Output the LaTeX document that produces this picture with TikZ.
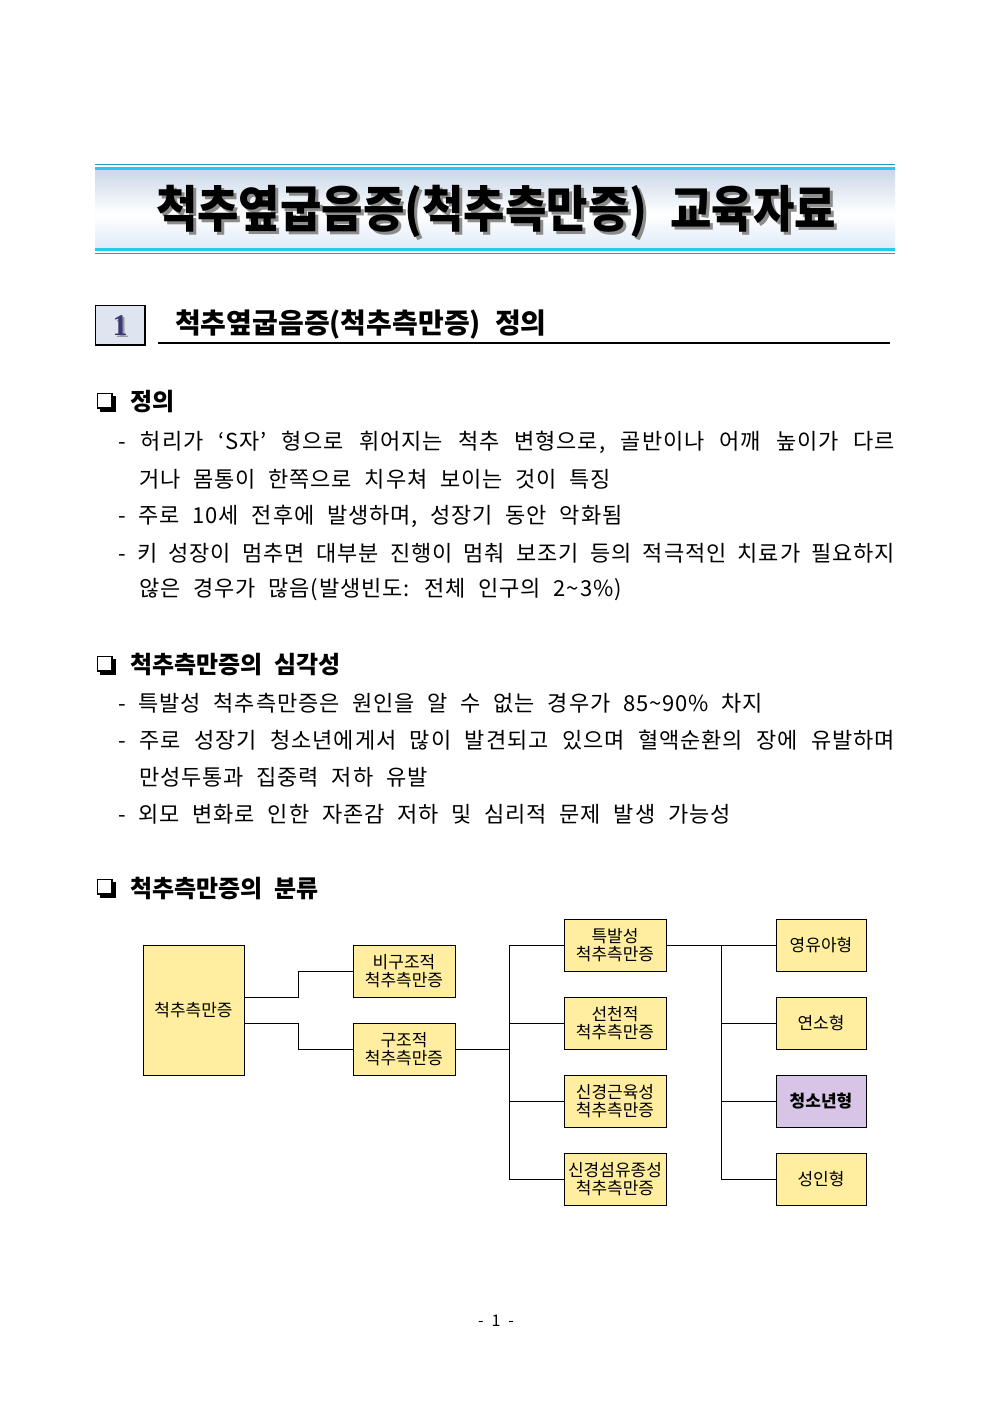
\documentclass[tikz,border=0pt]{standalone}
\usepackage{fontspec}
\usepackage{graphicx}
\setmainfont{Noto Sans CJK KR}[WordSpace=2.2]
\newfontfamily\bodyfont{Noto Sans CJK KR}[WordSpace=2.2, LetterSpace=4]
\newfontfamily\numfont{Liberation Serif}
\definecolor{boxyellow}{RGB}{255,238,160}
\definecolor{boxpurple}{RGB}{216,196,230}
\definecolor{cyanline}{RGB}{40,200,235}
\definecolor{titletop}{RGB}{200,214,232}
\definecolor{titlebot}{RGB}{222,234,248}
\definecolor{numblue}{RGB}{58,58,120}
\begin{document}
\begin{tikzpicture}[x=1pt,y=-1pt,
  box/.style={draw, line width=0.9pt, fill=boxyellow, inner sep=0pt, align=center,
    minimum width=102pt, minimum height=52pt, font=\fontsize{17}{18}\selectfont},
  rbox/.style={box, minimum width=90pt},
  conn/.style={line width=0.9pt},
  bodytxt/.style={anchor=west, inner sep=0pt, font=\bodyfont\fontsize{22}{24}\selectfont},
  headtxt/.style={anchor=west, inner sep=0pt, font=\fontsize{24}{28}\bfseries}]
\useasboundingbox (0,0) rectangle (992,1403);
\fill[white] (0,0) rectangle (992,1403);

% ---- title banner
\shade[top color=titletop, bottom color=white] (95,168) rectangle (895,214);
\shade[top color=white, bottom color=titlebot] (95,214) rectangle (895,250);
\draw[cyanline!80!black, line width=0.8pt] (95,164.5) -- (895,164.5);
\draw[cyanline, line width=3pt] (95,168) -- (895,168);
\draw[cyanline, line width=3pt] (95,249.5) -- (895,249.5);
\draw[cyanline!80!black, line width=0.8pt] (95,253) -- (895,253);
\node[text=black!45, font=\fontsize{50}{50}\bfseries] (titleshadow) at (499,214) {\scalebox{0.9}[1]{척추옆굽음증(척추측만증) 교육자료}};
\node[font=\fontsize{50}{50}\bfseries] (title) at (496,211) {\scalebox{0.9}[1]{척추옆굽음증(척추측만증) 교육자료}};

% ---- section 1 header
\draw[fill={rgb,255:red,222;green,228;blue,240}, line width=1.6pt] (95.5,305.5) rectangle (145,345);
\node[text=black!40, font=\numfont\fontsize{30}{30}\bfseries] (numshadow) at (122,328) {1};
\node[text=numblue, font=\numfont\fontsize{30}{30}\bfseries] (num) at (120,326) {1};
\node[anchor=west, inner sep=0pt, font=\fontsize{28}{30}\bfseries] (sec1) at (175,325) {척추옆굽음증(척추측만증) 정의};
\draw[line width=2pt] (158,343) -- (890,343);

% ---- heading markers
\foreach \yy in {402,665,888}{
  \draw[line width=1.3pt] (97.5,\yy-8.5) rectangle (112,\yy+6);
  \fill (112,\yy-6) rectangle (115.5,\yy+9.5);
  \fill (100,\yy+6) rectangle (115.5,\yy+9.5);
}

% ---- section: 정의
\node[headtxt] (h1) at (130,402) {정의};
\node[bodytxt] (l1) at (118,442) {\makebox[777pt][s]{- 허리가 ‘S자’ 형으로 휘어지는 척추 변형으로, 골반이나 어깨 높이가 다르}};
\node[bodytxt] (l2) at (139,479) {거나 몸통이 한쪽으로 치우쳐 보이는 것이 특징};
\node[bodytxt] (l3) at (118,516) {- 주로 10세 전후에 발생하며, 성장기 동안 악화됨};
\node[bodytxt] (l4) at (118,553) {\makebox[777pt][s]{- 키 성장이 멈추면 대부분 진행이 멈춰 보조기 등의 적극적인 치료가 필요하지}};
\node[bodytxt] (l5) at (139,590) {않은 경우가 많음(발생빈도: 전체 인구의 2\textasciitilde3\%)};

% ---- section: 심각성
\node[headtxt] (h2) at (130,665) {척추측만증의 심각성};
\node[bodytxt] (m1t) at (118,703) {- 특발성 척추측만증은 원인을 알 수 없는 경우가 85\textasciitilde90\% 차지};
\node[bodytxt] (m2t) at (118,740) {\makebox[777pt][s]{- 주로 성장기 청소년에게서 많이 발견되고 있으며 혈액순환의 장에 유발하며}};
\node[bodytxt] (m3t) at (139,777) {만성두통과 집중력 저하 유발};
\node[bodytxt] (m4t) at (118,814) {- 외모 변화로 인한 자존감 저하 및 심리적 문제 발생 가능성};

% ---- section: 분류
\node[headtxt] (h3) at (130,888) {척추측만증의 분류};

% ---- classification diagram
\node[box, minimum width=101pt, minimum height=130pt] (big) at (193.5,1010) {척추측만증};
\node[box] (b1) at (404,971) {비구조적\\척추측만증};
\node[box] (b2) at (404,1049) {구조적\\척추측만증};
\node[box] (m1) at (615,945) {특발성\\척추측만증};
\node[box] (m2) at (615,1023) {선천적\\척추측만증};
\node[box] (m3) at (615,1101) {신경근육성\\척추측만증};
\node[box] (m4) at (615,1179) {신경섬유종성\\척추측만증};
\node[rbox] (r1) at (821,945) {영유아형};
\node[rbox] (r2) at (821,1023) {연소형};
\node[rbox, fill=boxpurple, font=\fontsize{17}{18}\bfseries] (r3) at (821,1101) {청소년형};
\node[rbox] (r4) at (821,1179) {성인형};

\draw[conn] ([yshift=13pt]big.east) -- ++(54,0) |- (b1.west);
\draw[conn] ([yshift=-13pt]big.east) -- ++(54,0) |- (b2.west);
\coordinate (j1) at (510,1049);
\draw[conn] (b2.east) -- (j1);
\draw[conn] (m1.west) -- ++(-54,0) |- (m4.west);
\draw[conn] (m2.west) -- ++(-54,0);
\draw[conn] (m3.west) -- ++(-54,0);
\draw[conn] (m1.east) -- (r1.west);
\draw[conn] (r1.west) -- ++(-54,0) |- (r4.west);
\draw[conn] (r2.west) -- ++(-54,0);
\draw[conn] (r3.west) -- ++(-54,0);

% ---- page number
\node[font=\fontsize{16}{18}\selectfont] (pagenum) at (496,1321) {- 1 -};
\end{tikzpicture}
\end{document}
